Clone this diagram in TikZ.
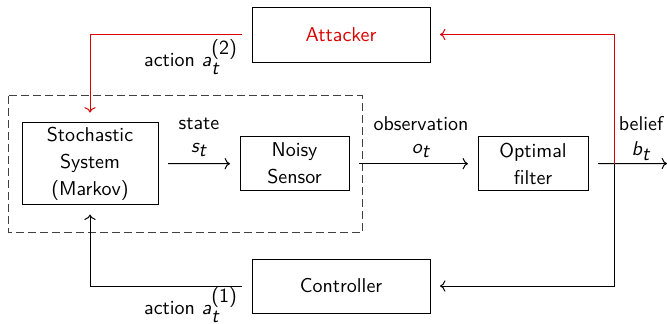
\documentclass[tikz,border=0pt]{standalone}
\usepackage{fontspec}
\usetikzlibrary{arrows.meta}
\newcommand\vit[1]{\textit{#1}}
\begin{document}
\begin{tikzpicture}[x=0.5pt,y=-0.5pt,font=\sffamily\fontsize{10}{13.5}\selectfont,
  blk/.style={draw,line width=0.5pt,inner sep=0pt,outer sep=5pt,align=center},
  lbl/.style={inner sep=0pt,align=center},
  conn/.style={line width=0.5pt},
  atk/.style={conn,draw=red!85!black}]
\useasboundingbox (0,0) rectangle (667,323);
\draw[line width=0.5pt,dash pattern=on 4pt off 2pt,draw=black!75] (8,95.5) rectangle (362,232);
\node[blk,minimum width=68pt,minimum height=41pt] (sys) at (90,163.5) {Stochastic\\System\\(Markov)};
\node[blk,minimum width=54.5pt,minimum height=27pt] (sen) at (294.5,163.7) {Noisy\\Sensor};
\node[blk,minimum width=55pt,minimum height=27pt] (fil) at (533,163.7) {Optimal\\filter};
\node[blk,minimum width=89pt,minimum height=27.5pt,text=red!85!black] (att) at (341,34.5) {Attacker};
\node[blk,minimum width=89pt,minimum height=27pt] (ctl) at (341,286) {Controller};
\coordinate (out) at (667,163.5);
\coordinate (br) at (614,163.5);
\node[lbl] (lstate) at (199,124) {state};
\node[lbl] (lst) at (199,150) {$\vit{s}_{\vit{t}}$};
\node[lbl] (lobs) at (421,124) {observation};
\node[lbl] (lot) at (421,151) {$\vit{o}_{\vit{t}}$};
\node[lbl] (lbel) at (641,124) {belief};
\node[lbl] (lbt) at (641,151) {$\vit{b}_{\vit{t}}$};
\node[lbl] (la2) at (191,57) {action $\vit{a}_{\vit{t}}^{\textsf{(2)}}$};
\node[lbl] (la1) at (191,305) {action $\vit{a}_{\vit{t}}^{\textsf{(1)}}$};
\draw[conn,->] (sys.east) -- (sen.west);
\draw[conn,->] (sen.east) -- (fil.west);
\draw[conn,->] (fil.east) -- (out);
\draw[atk,->] (br) |- (att.east);
\draw[atk,->] (att.west) -| (sys.north);
\draw[conn,->] (br) |- (ctl.east);
\draw[conn,->] (ctl.west) -| (sys.south);
\end{tikzpicture}
\end{document}
